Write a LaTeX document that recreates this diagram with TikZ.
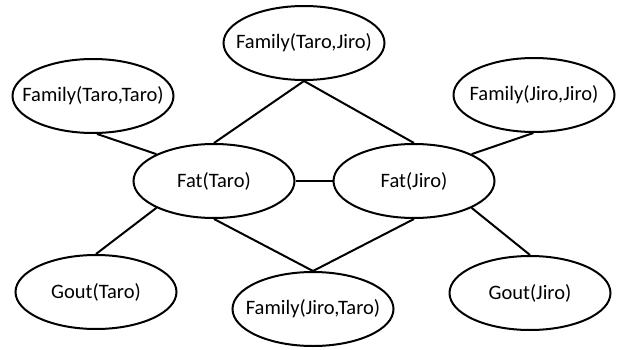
\documentclass[tikz,border=0pt]{standalone}
\usepackage{fontspec}
\setmainfont{Carlito}
\usetikzlibrary{shapes.geometric}
\newcommand{\zb}[1]{\makebox[0pt]{#1}}
\begin{document}
\begin{tikzpicture}[x=1pt,y=-1pt,
  ell/.style={draw, ellipse, line width=2pt, minimum width=161pt, minimum height=74pt, inner sep=0pt, font=\fontsize{20.5}{23}\selectfont},
  conn/.style={line width=2pt}]
\useasboundingbox (0,0) rectangle (626,350);
\node[ell] (ftj) at (304,43) {\zb{Family(Taro,Jiro)}};
\node[ell] (ftt) at (93,96) {\zb{Family(Taro,Taro)}};
\node[ell] (fjj) at (534,95) {\zb{Family(Jiro,Jiro)}};
\node[ell] (fatT) at (214,181) {\zb{Fat(Taro)}};
\node[ell] (fatJ) at (414,181) {\zb{Fat(Jiro)}};
\node[ell] (gT) at (96,292) {\zb{Gout(Taro)}};
\node[ell] (gJ) at (530,293) {\zb{Gout(Jiro)}};
\node[ell] (fjt) at (313,309) {\zb{Family(Jiro,Taro)}};
\draw[conn] (fatT.north) -- (ftj.south) -- (fatJ.north);
\draw[conn] (fatT.south) -- (fjt.north) -- (fatJ.south);
\draw[conn] (ftt.-84) -- (fatT.155);
\draw[conn] (fjj.-91) -- (fatJ.25);
\draw[conn] (fatT.east) -- (fatJ.west);
\draw[conn] (fatT.205) -- (gT.north);
\draw[conn] (fatJ.-25) -- (gJ.north);
\end{tikzpicture}
\end{document}
